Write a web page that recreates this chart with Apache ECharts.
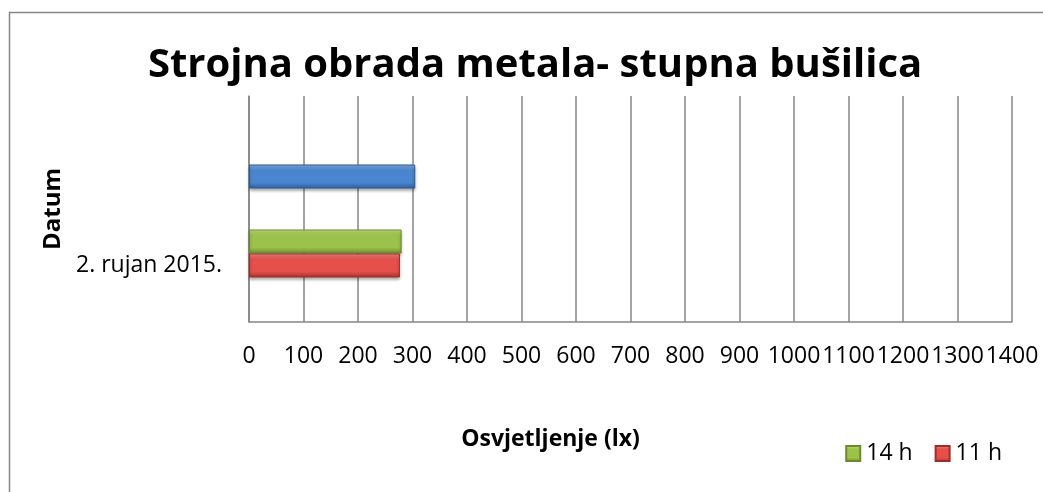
<!DOCTYPE html>
<html>
<head>
<meta charset="utf-8">
<script src="https://cdn.jsdelivr.net/npm/echarts@6/dist/echarts.min.js"></script>
<style>html,body{margin:0;padding:0;background:#fff}#c{width:1043px;height:492px}</style>
</head>
<body>
<div id="c"></div>
<script>
const categories = ['2. rujan 2015.', ''];
const xTicks = { min: 0, max: 1400, interval: 100 };
const series14h = [280, null];
const series11h = [277, null];
const seriesBlue = [null, 305];
const legendNames = ['14 h', '11 h'];

const FONT = 'Open Sans';
function grad(top, mid, bottom) {
  return new echarts.graphic.LinearGradient(0, 0, 0, 1, [
    { offset: 0, color: top },
    { offset: 0.25, color: mid },
    { offset: 0.75, color: mid },
    { offset: 1, color: bottom }
  ]);
}
const green = grad('#cfe88a', '#9bc24a', '#6f8f2c');
const red = grad('#f58a86', '#e5504b', '#a8302c');
const blue = grad('#86b2ea', '#4a86cf', '#2f5f9c');

const chart = echarts.init(document.getElementById('c'), null, { renderer: 'canvas' });
chart.setOption({
  animation: false,
  backgroundColor: '#ffffff',
  graphic: [{
    type: 'rect', left: 7, top: 10, shape: { width: 1200, height: 600 },
    style: { fill: 'none', stroke: '#868686', lineWidth: 1.5 }, z: -1
  }],
  title: {
    text: 'Strojna obrada metala- stupna bušilica',
    left: 530, top: 41, textAlign: 'center',
    textStyle: { fontFamily: FONT, fontWeight: 'bold', fontSize: 40, color: '#000' }
  },
  legend: {
    data: legendNames,
    right: 36, top: 437,
    itemWidth: 14, itemHeight: 15, itemGap: 22,
    icon: 'rect',
    textStyle: { fontFamily: FONT, fontSize: 23, color: '#000', padding: [0, 0, 0, 1] }
  },
  grid: { left: 249, right: 31, top: 96, bottom: 170, containLabel: false },
  xAxis: {
    type: 'value', min: xTicks.min, max: xTicks.max, interval: xTicks.interval,
    name: 'Osvjetljenje (lx)', nameLocation: 'middle', nameGap: 106,
    nameTextStyle: { fontFamily: FONT, fontWeight: 'bold', fontSize: 23, color: '#000', padding: [0, 160, 0, 0] },
    axisLine: { show: true, lineStyle: { color: '#868686', width: 1.5 } },
    axisTick: { show: false },
    axisLabel: { fontFamily: FONT, fontSize: 23, color: '#000', margin: 23,
      showMinLabel: true, showMaxLabel: true, hideOverlap: false,
      formatter: function (v) { return String(v); } },
    splitLine: { show: true, lineStyle: { color: '#868686', width: 1.5 } }
  },
  yAxis: {
    type: 'category', data: categories,
    name: 'Datum', nameLocation: 'middle', nameGap: 184, nameRotate: 90,
    nameTextStyle: { fontFamily: FONT, fontWeight: 'bold', fontSize: 24, color: '#000' },
    axisLine: { show: true, lineStyle: { color: '#868686', width: 1.5 } },
    axisTick: { show: false },
    axisLabel: { fontFamily: FONT, fontSize: 23, color: '#000', margin: 27 },
    splitLine: { show: false }
  },
  series: [
    { name: legendNames[0], type: 'bar', data: series14h, barWidth: 24, barGap: '0%',
      itemStyle: { color: green, borderColor: '#6b8a2a', borderWidth: 1, shadowBlur: 3, shadowColor: 'rgba(0,0,0,0.35)', shadowOffsetY: 2 } },
    { name: legendNames[1], type: 'bar', data: series11h, barWidth: 24, barGap: '0%',
      itemStyle: { color: red, borderColor: '#9c2e2a', borderWidth: 1, shadowBlur: 3, shadowColor: 'rgba(0,0,0,0.35)', shadowOffsetY: 2 } },
    { name: 'Serija 3', type: 'bar', data: seriesBlue, barWidth: 24, barGap: '0%',
      itemStyle: { color: blue, borderColor: '#2c5a94', borderWidth: 1, shadowBlur: 3, shadowColor: 'rgba(0,0,0,0.35)', shadowOffsetY: 2 } }
  ]
});
</script>
</body>
</html>
